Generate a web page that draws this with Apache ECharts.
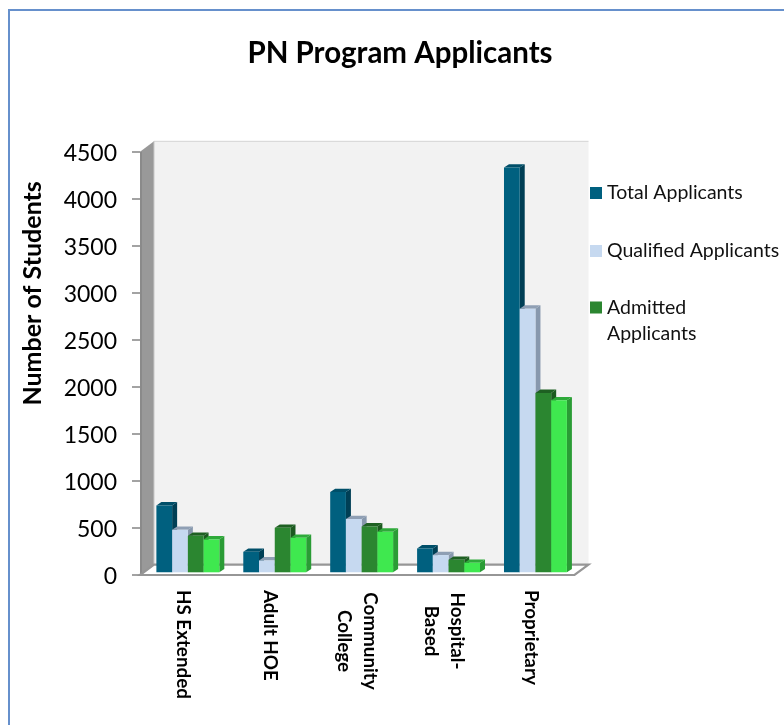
<!DOCTYPE html>
<html>
<head>
<meta charset="utf-8">
<style>html,body{margin:0;padding:0;background:#fff}#c{width:784px;height:725px}</style>
<script src="https://cdn.jsdelivr.net/npm/echarts@6/dist/echarts.min.js"></script>
</head>
<body>
<div id="c"></div>
<script>
const categories = ['HS Extended', 'Adult HOE', 'Community\nCollege', 'Hospital-\nBased', 'Proprietary'];
const totalApplicants = [710, 218, 853, 253, 4303];
const qualifiedApplicants = [452, 126, 566, 183, 2803];
const admittedApplicants = [388, 473, 487, 133, 1906];
const unlabelledSeries = [349, 367, 431, 101, 1828];
const yTicks = { min: 0, max: 4500, interval: 500 };

const font = 'Lato, "Open Sans", sans-serif';
const FONT_AXIS = 23, FONT_LEG = 19.5, FONT_CAT = 18.8;
const palette = [
  { name: 'Total Applicants', values: totalApplicants, front: '#00607f', top: '#004f69', side: '#003f55' },
  { name: 'Qualified Applicants', values: qualifiedApplicants, front: '#c6d9f0', top: '#8f9fb4', side: '#8798ad' },
  { name: 'Admitted Applicants', values: admittedApplicants, front: '#2b8630', top: '#1e6022', side: '#1c5a20' },
  { name: 'Series 4', values: unlabelledSeries, front: '#3fe84f', top: '#2eaa3a', side: '#2a9c35' }
];

function barItem(idx, pal) {
  return function (params, api) {
    const band = api.size([1, 0])[0];
    const w = band * 0.181, dx = 4.4, dy = -2.7, dX = 5, dY = -3.4;
    const p = api.coord([api.value(0), api.value(1)]);
    const b = api.coord([api.value(0), 0]);
    const x = p[0] + (idx - 2) * w + dx, yT = p[1] + dy, yB = b[1] + dy;
    return {
      type: 'group',
      children: [
        { type: 'polygon', shape: { points: [[x + w, yT], [x + w + dX, yT + dY], [x + w + dX, yB + dY], [x + w, yB]] }, style: { fill: pal.side } },
        { type: 'polygon', shape: { points: [[x, yT], [x + dX, yT + dY], [x + w + dX, yT + dY], [x + w, yT]] }, style: { fill: pal.top } },
        { type: 'rect', shape: { x: x, y: yT, width: w, height: yB - yT }, style: { fill: pal.front } }
      ]
    };
  };
}

function wallItem(params, api) {
  const c = params.coordSys;
  const dX = 14, dY = -10.4;
  const L = c.x, R = c.x + c.width, T = c.y, B = c.y + c.height;
  return {
    type: 'group',
    children: [
      { type: 'rect', shape: { x: L + dX, y: T + dY, width: c.width, height: c.height }, style: { fill: '#f2f2f2' } },
      { type: 'line', shape: { x1: L + dX, y1: T + dY, x2: R + dX, y2: T + dY }, style: { stroke: '#d4d4d4', lineWidth: 1 } },
      { type: 'polygon', shape: { points: [[L, T], [L + dX, T + dY], [L + dX, B + dY], [L, B]] }, style: { fill: '#999999' } },
      { type: 'line', shape: { x1: L + dX, y1: T + dY, x2: L + dX, y2: B + dY }, style: { stroke: '#c8c8c8', lineWidth: 1 } },
      { type: 'rect', shape: { x: L, y: T, width: 2, height: c.height }, style: { fill: '#8a8a8a' } },
      { type: 'polygon', shape: { points: [[L, B], [L + dX, B + dY], [R + dX, B + dY], [R, B]] }, style: { fill: '#ffffff', stroke: '#969696', lineWidth: 2.2 } }
    ]
  };
}

const legendBase = { orient: 'vertical', left: 585, itemWidth: 12, itemHeight: 12, itemGap: 0, icon: 'rect',
  textStyle: { fontFamily: font, fontSize: FONT_LEG, color: '#111', lineHeight: 26 } };

const option = {
  backgroundColor: '#ffffff',
  animation: false,
  title: { text: 'PN Program Applicants', left: 395, top: 33, textAlign: 'center',
    textStyle: { fontFamily: font, fontSize: 29.5, fontWeight: 'bold', color: '#000' } },
  grid: { left: 140, top: 151.7, width: 434.5, height: 423.3, containLabel: false },
  legend: [
    Object.assign({}, legendBase, { top: 175, data: ['Total Applicants'] }),
    Object.assign({}, legendBase, { top: 233, data: ['Qualified Applicants'] }),
    Object.assign({}, legendBase, { top: 289.5, itemHeight: 38, data: ['Admitted Applicants'],
      icon: 'path://M0,0L12,0L12,12L0,12ZM0,38L0,38Z',
      formatter: function (n) { return n.replace(' ', '\n'); } })
  ],
  xAxis: {
    type: 'category', data: categories,
    axisLine: { show: false }, axisTick: { show: false },
    axisLabel: {
      interval: 0, rotate: -90, margin: 15, color: '#000',
      fontFamily: font, fontWeight: 'bold', fontSize: FONT_CAT, lineHeight: 26,
      formatter: function (v) {
        if (v.indexOf('\n') < 0) return v;
        const tok = v.indexOf('Community') === 0 ? 'm' : 'h';
        return v.split('\n').map(function (s) { return '{' + tok + '|' + s + '}'; }).join('\n');
      },
      rich: {
        m: { width: 102, align: 'center', fontFamily: font, fontWeight: 'bold', fontSize: FONT_CAT, lineHeight: 26, color: '#000' },
        h: { width: 82, align: 'center', fontFamily: font, fontWeight: 'bold', fontSize: FONT_CAT, lineHeight: 26, color: '#000' }
      }
    }
  },
  yAxis: {
    type: 'value', min: yTicks.min, max: yTicks.max, interval: yTicks.interval,
    name: 'Number of Students', nameLocation: 'middle', nameGap: 95, nameRotate: 90,
    nameTextStyle: { fontFamily: font, fontSize: 25, fontWeight: 'bold', color: '#000', padding: [0, 0, 0, 140] },
    axisLine: { show: false },
    axisTick: { show: true, length: 8, lineStyle: { color: '#858585', width: 1.5 } },
    axisLabel: { margin: 23, color: '#000',
      formatter: function (v) { return '{n|' + v + '}'; },
      rich: { n: { fontFamily: font, fontSize: FONT_AXIS, color: '#000', padding: [4, 0, 0, 0] } } },
    splitLine: { show: false }
  },
  series: [
    { type: 'custom', name: 'wall', silent: true, clip: false, z: 1, renderItem: wallItem, data: [[0, 0]], encode: { x: 0, y: 1 } }
  ].concat(palette.map(function (pal, idx) {
    return {
      type: 'custom', name: pal.name, clip: false, z: 3,
      renderItem: barItem(idx, pal),
      itemStyle: { color: pal.front },
      encode: { x: 0, y: 1 },
      data: pal.values.map(function (v, i) { return [i, v]; })
    };
  })),
  graphic: [
    { type: 'rect', silent: true, z: -1, shape: { x: 9, y: 10, width: 1000, height: 1000 },
      style: { fill: 'transparent', stroke: '#6690cc', lineWidth: 2 } }
  ]
};
echarts.init(document.getElementById('c'), null, { renderer: 'canvas' }).setOption(option);
</script>
</body>
</html>
